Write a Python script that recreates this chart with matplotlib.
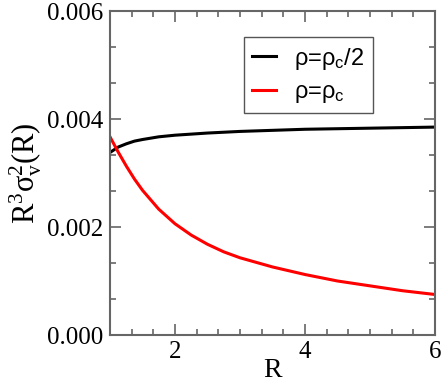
import matplotlib
matplotlib.use("Agg")
import matplotlib.pyplot as plt
from matplotlib.ticker import MultipleLocator

# data
r_half = [1.0, 1.125, 1.25, 1.375, 1.5, 1.75, 2.0, 2.5, 3.0, 3.5, 4.0, 4.5,
          5.0, 5.5, 6.0]
var_half = [0.00338, 0.00348, 0.00354, 0.00359, 0.00362, 0.00367, 0.00370,
            0.00374, 0.00377, 0.00379, 0.00381, 0.00382, 0.00383, 0.00384,
            0.00385]

r_crit = [1.0, 1.125, 1.25, 1.375, 1.5, 1.75, 2.0, 2.25, 2.5, 2.75, 3.0, 3.5,
          4.0, 4.5, 5.0, 5.5, 6.0]
var_crit = [0.00367, 0.00339, 0.00313, 0.00289, 0.00268, 0.00233, 0.00206,
            0.00185, 0.00168, 0.00154, 0.00143, 0.00126, 0.00112, 0.00100,
            0.00091, 0.00082, 0.00075]

labels = [r"ρ=ρ$_c$/2", r"ρ=ρ$_c$"]

plt.rcParams["font.family"] = "Liberation Serif"
plt.rcParams["mathtext.default"] = "regular"

fig = plt.figure(figsize=(4.43, 3.83), dpi=100)
ax = fig.add_axes([110 / 443, 48 / 383, 325 / 443, 324 / 383])

ax.plot(r_half, var_half, color="black", lw=2.2, label=labels[0])
ax.plot(r_crit, var_crit, color="red", lw=2.2, label=labels[1])

ax.set_xlim(1, 6)
ax.set_ylim(0, 0.006)
ax.xaxis.set_major_locator(MultipleLocator(2))
ax.xaxis.set_minor_locator(MultipleLocator(1 / 3))
ax.yaxis.set_major_locator(MultipleLocator(0.002))
ax.yaxis.set_minor_locator(MultipleLocator(0.002 / 3))
ax.yaxis.set_major_formatter(plt.FormatStrFormatter("%.3f"))

axis_col = "#666666"
for s in ax.spines.values():
    s.set_color(axis_col)
    s.set_linewidth(1.5)
ax.tick_params(which="both", direction="in", top=True, right=True,
               color=axis_col, width=1.2, labelsize=18)
ax.tick_params(axis="x", pad=4)
ax.tick_params(axis="y", pad=5)
ax.tick_params(which="major", length=8)
ax.tick_params(which="minor", length=4)

ax.set_xlabel("R", fontsize=20, labelpad=-3)
ax.set_ylabel(r"$\mathregular{R^3σ^2_v(R)}$", fontsize=22, labelpad=2)

leg = ax.legend(loc="upper left", bbox_to_anchor=(0.375, 0.955),
                prop={"family": "Liberation Sans", "size": 17},
                handlelength=1.0, handletextpad=0.8, borderpad=0.35,
                labelspacing=0.4, fancybox=False, framealpha=1)
leg.get_frame().set_edgecolor("#555555")
leg.get_frame().set_linewidth(1.0)

fig.savefig("out.png", dpi=100)
